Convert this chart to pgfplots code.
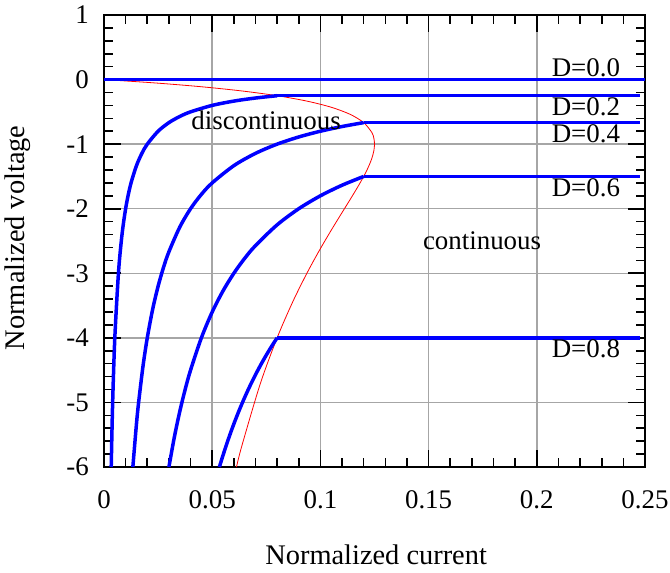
\documentclass[border=0pt]{standalone}
\usepackage{fontspec}
\setmainfont{Liberation Serif}
\usepackage{pgfplots}
\pgfplotsset{compat=1.18}
\begin{document}
\fontsize{27}{32}\selectfont
\begin{tikzpicture}
\begin{axis}[
    scale only axis,
    width=541bp, height=452bp,
    xmin=0, xmax=0.25, ymin=-6, ymax=1,
    xtick={0,0.05,0.1,0.15,0.2,0.25},
    xticklabels={0,0.05,0.1,0.15,0.2,0.25},
    ytick={-6,-5,-4,-3,-2,-1,0,1},
    minor x tick num=4,
    minor y tick num=4,
    tick align=inside,
    major tick length=17bp,
    minor tick length=9bp,
    every tick/.style={black, line width=1.6bp},
    axis line style={black, line width=2bp},
    grid=major,
    major grid style={black!35, line width=1.5bp},
    /pgf/number format/assume math mode=true,
    xticklabel style={yshift=-14bp},
    yticklabel style={xshift=-6bp},
    xlabel={\fontsize{28.5}{32}\selectfont Normalized current},
    ylabel={\fontsize{28.5}{32}\selectfont Normalized voltage},
    every axis x label/.style={at={(axis description cs:0.503,-0.195)}, anchor=center},
    every axis y label/.style={at={(axis description cs:-0.159,0.507)}, anchor=center, rotate=90},
    blueline/.style={blue, line width=3.5bp},
]
% boundary between continuous and discontinuous conduction
\addplot[red, line width=0.8bp, smooth] coordinates {
(0,0) (0.02375,-0.05263) (0.045,-0.11111) (0.06375,-0.17647) (0.08,-0.25)
(0.09375,-0.33333) (0.105,-0.42857) (0.11375,-0.53846) (0.12,-0.66667)
(0.12375,-0.81818) (0.1246875,-0.90476) (0.125,-1) (0.1246875,-1.10526)
(0.12375,-1.22222) (0.1221875,-1.35294) (0.12,-1.5) (0.1171875,-1.66667)
(0.11375,-1.85714) (0.1096875,-2.07692) (0.105,-2.33333) (0.0996875,-2.63636)
(0.09375,-3) (0.0871875,-3.44444) (0.08,-4) (0.0721875,-4.71429)
(0.06375,-5.66667) (0.0612245,-6)};
% D=0.0
\addplot[blueline] coordinates {(0,0) (0.25,0)};
% D=0.2
\addplot[blueline, smooth] coordinates {
(0.003333,-6) (0.004,-5) (0.005,-4) (0.00667,-3) (0.008,-2.5) (0.009,-2.2222)
(0.01,-2) (0.011,-1.8182) (0.0125,-1.6) (0.015,-1.3333) (0.0175,-1.1429)
(0.02,-1) (0.025,-0.8) (0.03,-0.66667) (0.035,-0.57143) (0.04,-0.5)
(0.05,-0.4) (0.06,-0.33333) (0.07,-0.28571) (0.08,-0.25)};
\addplot[blueline] coordinates {(0.08,-0.25) (0.2475,-0.25)};
% D=0.4
\addplot[blueline, smooth] coordinates {
(0.013333,-6) (0.015,-5.3333) (0.016,-5) (0.018,-4.4444) (0.02,-4)
(0.0225,-3.5556) (0.025,-3.2) (0.0275,-2.9091) (0.03,-2.6667) (0.035,-2.2857)
(0.04,-2) (0.045,-1.7778) (0.05,-1.6) (0.06,-1.3333) (0.07,-1.1429)
(0.08,-1) (0.09,-0.88889) (0.1,-0.8) (0.11,-0.72727) (0.12,-0.66667)};
\addplot[blueline] coordinates {(0.12,-0.66667) (0.2475,-0.66667)};
% D=0.6
\addplot[blueline, smooth] coordinates {
(0.03,-6) (0.0325,-5.5385) (0.035,-5.1429) (0.0375,-4.8) (0.04,-4.5)
(0.045,-4) (0.05,-3.6) (0.055,-3.2727) (0.06,-3) (0.065,-2.7692)
(0.07,-2.5714) (0.08,-2.25) (0.09,-2) (0.1,-1.8) (0.11,-1.6364)
(0.12,-1.5)};
\addplot[blueline] coordinates {(0.12,-1.5) (0.2475,-1.5)};
% D=0.8
\addplot[blueline, smooth] coordinates {
(0.053333,-6) (0.055,-5.8182) (0.0575,-5.5652) (0.06,-5.3333) (0.0625,-5.12)
(0.065,-4.9231) (0.0675,-4.7407) (0.07,-4.5714) (0.0725,-4.4138)
(0.075,-4.2667) (0.0775,-4.129) (0.08,-4)};
\addplot[blueline] coordinates {(0.08,-4) (0.2475,-4)};
\node[anchor=south, inner sep=2bp] at (axis cs:0.2227,0) {D=0.0};
\node[anchor=north, inner sep=2bp] at (axis cs:0.2227,-0.25) {D=0.2};
\node[anchor=north, inner sep=2bp] at (axis cs:0.2227,-0.67) {D=0.4};
\node[anchor=north, inner sep=2bp] at (axis cs:0.2227,-1.5) {D=0.6};
\node[anchor=north, inner sep=2bp] at (axis cs:0.2227,-4) {D=0.8};
\node at (axis cs:0.0749,-0.63) {discontinuous};
\node at (axis cs:0.1747,-2.5) {continuous};
\end{axis}
\pgfresetboundingbox
\path (-104bp,-106bp) rectangle (566bp,467bp);
\end{tikzpicture}
\end{document}
